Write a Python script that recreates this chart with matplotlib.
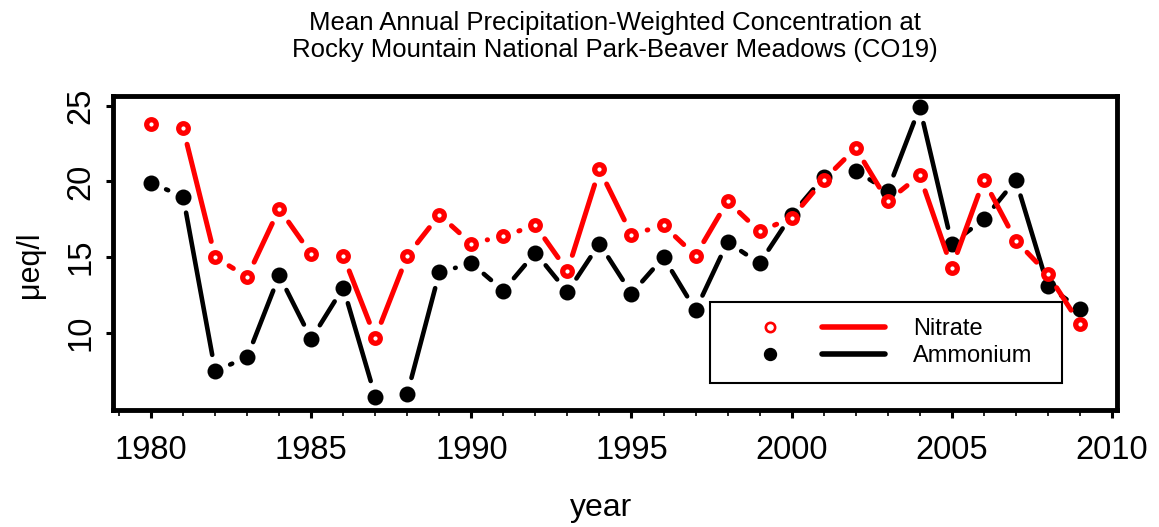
import numpy as np
import matplotlib
matplotlib.use('Agg')
import matplotlib.pyplot as plt
from matplotlib.lines import Line2D
from matplotlib.patches import Rectangle
from matplotlib.ticker import FixedLocator

plt.rcParams['font.family'] = ['Liberation Sans', 'DejaVu Sans']

# data
years = list(range(1980, 2010))
nitrate = [23.8, 23.5, 15.0, 13.7, 18.2, 15.2, 15.1, 9.7, 15.1, 17.8,
           15.9, 16.4, 17.1, 14.1, 20.8, 16.5, 17.1, 15.1, 18.7, 16.7,
           17.6, 20.1, 22.2, 18.7, 20.4, 14.3, 20.1, 16.1, 13.9, 10.6]
ammonium = [19.9, 19.0, 7.5, 8.4, 13.8, 9.6, 13.0, 5.8, 6.0, 14.0,
            14.6, 12.8, 15.3, 12.7, 15.9, 12.6, 15.0, 11.5, 16.0, 14.6,
            17.8, 20.3, 20.7, 19.4, 24.9, 15.9, 17.5, 20.1, 13.1, 11.6]
series_names = ['Nitrate', 'Ammonium']
x_major = [1980, 1985, 1990, 1995, 2000, 2005, 2010]
x_minor = list(range(1979, 2011))
y_ticks = [10, 15, 20, 25]
title_lines = ['Mean Annual Precipitation-Weighted Concentration at',
               'Rocky Mountain National Park-Beaver Meadows (CO19)']


def plot_gapped(ax, x, y, gap_px, **kw):
    # lines between points that stop short of the points (like R type="b")
    pts = ax.transData.transform(np.column_stack([x, y]))
    inv = ax.transData.inverted()
    for p0, p1 in zip(pts[:-1], pts[1:]):
        d = p1 - p0
        length = np.hypot(d[0], d[1])
        if length <= 2 * gap_px:
            continue
        u = d / length
        a = inv.transform(p0 + u * gap_px)
        b = inv.transform(p1 - u * gap_px)
        ax.plot([a[0], b[0]], [a[1], b[1]], solid_capstyle='round', **kw)


fig = plt.figure(figsize=(11.59, 5.27), dpi=100)
ax = fig.add_axes([113 / 1159, 117 / 527, 1004 / 1159, 314 / 527])
ax.set_xlim(1978.81, 2010.16)
ax.set_ylim(4.92, 25.64)

plot_gapped(ax, years, ammonium, 16.3, color='black', lw=3.3, zorder=2)
ax.plot(years, ammonium, ls='none', marker='o', ms=10.3, mfc='black',
        mec='black', mew=1.2, zorder=3)
plot_gapped(ax, years, nitrate, 16.3, color='red', lw=3.6, zorder=4)
ax.plot(years, nitrate, ls='none', marker='o', ms=6.9, mfc='white',
        mec='red', mew=3.8, zorder=5)

for s in ax.spines.values():
    s.set_linewidth(3.5)

ax.xaxis.set_major_locator(FixedLocator(x_major))
ax.xaxis.set_minor_locator(FixedLocator(x_minor))
ax.set_yticks(y_ticks)
ax.tick_params(axis='x', which='major', length=6, width=2.2, pad=12,
               labelsize=23.5)
ax.tick_params(axis='x', which='minor', length=4.5, width=1.2)
ax.tick_params(axis='y', which='major', length=5, width=2.2, pad=7,
               labelsize=23.5, labelrotation=90)
plt.setp(ax.get_yticklabels(), va='center')

fig.text(601 / 1159, 1 - 508 / 527, 'year', ha='center', va='center',
         fontsize=23)
fig.text(30 / 1159, 1 - 265 / 527, 'μeq/l', ha='center', va='center',
         rotation=90, fontsize=22)
fig.text(615 / 1159, 1 - 36.5 / 527, '\n'.join(title_lines), ha='center',
         va='center', fontsize=18.5, linespacing=1.2)

# legend drawn by hand: marker column, line column, text column
ax.add_patch(Rectangle((0.5946, 0.086), 0.3506, 0.258, transform=ax.transAxes,
                       fill=True, facecolor='white', edgecolor='black',
                       lw=1.5, zorder=6))
leg_y = [0.264, 0.178]
ax.add_line(Line2D([0.654], [leg_y[0]], transform=ax.transAxes, ls='none',
                   marker='o', ms=6.7, mfc='white', mec='red', mew=1.9,
                   zorder=7))
ax.add_line(Line2D([0.654], [leg_y[1]], transform=ax.transAxes, ls='none',
                   marker='o', ms=8.6, mfc='black', mec='black', zorder=7))
for yy, col, name in zip(leg_y, ['red', 'black'], series_names):
    ax.add_line(Line2D([0.706, 0.769], [yy, yy], transform=ax.transAxes,
                       color=col, lw=4, solid_capstyle='round', zorder=7))
    ax.text(0.797, yy - 0.005, name, transform=ax.transAxes, ha='left',
            va='center', fontsize=17, zorder=8)

fig.savefig('out.png', dpi=100)
